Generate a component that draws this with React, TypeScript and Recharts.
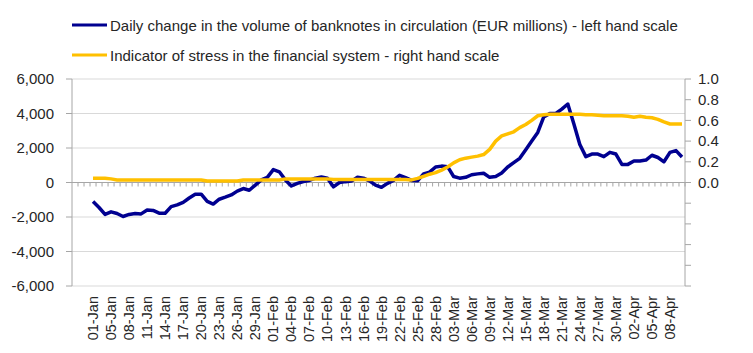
import React from "react";
import {
  ComposedChart,
  Line,
  XAxis,
  YAxis,
  CartesianGrid,
  ReferenceLine,
} from "recharts";

// empty slots before the first observation (Excel leaves a gap there)
const padding = ["", " ", "  "];

const dates = [
  "01-Jan", "03-Jan", "04-Jan", "05-Jan", "06-Jan", "07-Jan", "08-Jan", "09-Jan", "10-Jan", "11-Jan",
  "12-Jan", "13-Jan", "14-Jan", "15-Jan", "16-Jan", "17-Jan", "18-Jan", "19-Jan", "20-Jan", "21-Jan",
  "22-Jan", "23-Jan", "24-Jan", "25-Jan", "26-Jan", "27-Jan", "28-Jan", "29-Jan", "30-Jan", "31-Jan",
  "01-Feb", "02-Feb", "03-Feb", "04-Feb", "05-Feb", "06-Feb", "07-Feb", "08-Feb", "09-Feb", "10-Feb",
  "11-Feb", "12-Feb", "13-Feb", "14-Feb", "15-Feb", "16-Feb", "17-Feb", "18-Feb", "19-Feb", "20-Feb",
  "21-Feb", "22-Feb", "23-Feb", "24-Feb", "25-Feb", "26-Feb", "27-Feb", "28-Feb",
  "01-Mar", "02-Mar", "03-Mar", "04-Mar", "05-Mar", "06-Mar", "07-Mar", "08-Mar", "09-Mar", "10-Mar",
  "11-Mar", "12-Mar", "13-Mar", "14-Mar", "15-Mar", "16-Mar", "17-Mar", "18-Mar", "19-Mar", "20-Mar",
  "21-Mar", "22-Mar", "23-Mar", "24-Mar", "25-Mar", "26-Mar", "27-Mar", "28-Mar", "29-Mar", "30-Mar",
  "31-Mar",
  "01-Apr", "02-Apr", "03-Apr", "04-Apr", "05-Apr", "06-Apr", "07-Apr", "08-Apr", "09-Apr", "10-Apr",
];

// EUR millions, left hand scale
const banknotes = [
  // Jan
  -1100, -1450, -1850, -1700, -1800, -1970, -1850, -1800, -1820, -1600,
  -1620, -1780, -1780, -1400, -1300, -1150, -900, -680, -680, -1100,
  -1250, -970, -850, -720, -500, -350, -450, -150, 150, 300,
  // Feb
  750, 620, 150, -200, -50, 60, 120, 250, 320, 250,
  -250, 0, 50, 80, 300, 250, 100, -150, -280, -50,
  120, 420, 280, 120, 100, 500, 600, 900,
  // Mar
  950, 920, 350, 250, 300, 450, 500, 540, 300, 350,
  550, 900, 1150, 1400, 1900, 2400, 2900, 3800, 4000, 4000,
  4250, 4550, 3400, 2200, 1500, 1650, 1650, 1500, 1750, 1650,
  1050,
  // Apr
  1050, 1250, 1250, 1300, 1580, 1450, 1200, 1750, 1850, 1480,
];

// stress indicator, right hand scale
const stress = [
  // Jan
  0.04, 0.04, 0.04, 0.035, 0.025, 0.025, 0.025, 0.025, 0.025, 0.025,
  0.025, 0.025, 0.025, 0.025, 0.025, 0.025, 0.025, 0.025, 0.025, 0.015,
  0.015, 0.015, 0.015, 0.015, 0.015, 0.025, 0.025, 0.025, 0.025, 0.025,
  // Feb
  0.025, 0.025, 0.035, 0.035, 0.035, 0.035, 0.035, 0.035, 0.035, 0.035,
  0.028, 0.028, 0.028, 0.028, 0.028, 0.028, 0.028, 0.028, 0.028, 0.028,
  0.028, 0.028, 0.028, 0.025, 0.04, 0.06, 0.08, 0.095,
  // Mar
  0.12, 0.15, 0.19, 0.22, 0.235, 0.245, 0.255, 0.27, 0.32, 0.4,
  0.45, 0.47, 0.49, 0.53, 0.56, 0.6, 0.645, 0.655, 0.66, 0.66,
  0.66, 0.66, 0.66, 0.66, 0.655, 0.655, 0.65, 0.645, 0.645, 0.645,
  0.645,
  // Apr
  0.64, 0.63, 0.64, 0.63, 0.625, 0.61, 0.585, 0.565, 0.565, 0.565,
];

const leftTicks = [-6000, -4000, -2000, 0, 2000, 4000, 6000];
const rightTicks = [-1, -0.8, -0.6, -0.4, -0.2, 0, 0.2, 0.4, 0.6, 0.8, 1];

const legendItems = [
  { label: "Daily change in the volume of banknotes in circulation (EUR millions) - left hand scale", color: "#000090" },
  { label: "Indicator of stress in the financial system - right hand scale", color: "#FFC000" },
];

const data = [
  ...padding.map((p) => ({ date: p, banknotes: null, stress: null })),
  ...dates.map((d, i) => ({ date: d, banknotes: banknotes[i], stress: stress[i] })),
];

const FONT = "'Liberation Sans', Arial, sans-serif";
const AXIS = "#a6a6a6";
const TEXT = "#262626";

const DateTick = (props: any) => {
  const { x, y, payload } = props;
  return (
    <text
      x={x}
      y={y}
      transform={`rotate(-90, ${x}, ${y})`}
      textAnchor="end"
      dy="0.35em"
      fontSize={14.5}
      fontFamily={FONT}
      fill={TEXT}
    >
      {payload.value}
    </text>
  );
};

const ValueTick = (props: any) => {
  const { x, y, payload, textAnchor, tickFormatter } = props;
  const label = tickFormatter ? tickFormatter(payload.value) : payload.value;
  return (
    <text
      x={x}
      y={y}
      textAnchor={textAnchor}
      dy="0.35em"
      fontSize={15}
      fontFamily={FONT}
      fill={TEXT}
    >
      {label}
    </text>
  );
};

// zero line that doubles as the category axis, with a small tick between categories
const ZeroAxis = (props: any) => {
  const { x1, x2, y1 } = props;
  if (x1 == null || x2 == null || y1 == null) return null;
  const step = (x2 - x1) / data.length;
  return (
    <g>
      <line x1={x1} x2={x2} y1={y1} y2={y1} stroke={AXIS} strokeWidth={1} />
      {data.map((_, i) => (
        <line
          key={`t-${i}`}
          x1={x1 + (i + 1) * step}
          x2={x1 + (i + 1) * step}
          y1={y1}
          y2={y1 + 4}
          stroke={AXIS}
          strokeWidth={1}
        />
      ))}
    </g>
  );
};

const formatLeft = (v: number) => v.toLocaleString("en-US");
const formatRight = (v: number) => (v < 0 ? "" : v.toFixed(1));

const App: React.FC = () => {
  return (
    <div style={{ position: "relative", width: 753, height: 353, fontFamily: FONT }}>
      <style>{`body{margin:0}`}</style>
      <div style={{ position: "absolute", left: 72, top: 14 }}>
        {legendItems.map((item, i) => (
          <div
            key={item.label}
            style={{ display: "flex", alignItems: "center", height: 22, marginBottom: i === 0 ? 8 : 0 }}
          >
            <svg width={36} height={6} style={{ marginRight: 2 }}>
              <line x1={0} x2={35} y1={3} y2={3} stroke={item.color} strokeWidth={3} />
            </svg>
            <span style={{ fontSize: 15, color: TEXT, whiteSpace: "nowrap" }}>{item.label}</span>
          </div>
        ))}
      </div>
      <ComposedChart
        width={753}
        height={353}
        data={data}
        margin={{ top: 79, right: 0, bottom: 0, left: 0 }}
      >
        <CartesianGrid yAxisId="left" vertical={false} stroke="#d9d9d9" />
        <XAxis
          dataKey="date"
          scale="band"
          interval={2}
          height={67}
          axisLine={false}
          tickLine={false}
          tickSize={0}
          tickMargin={10}
          tick={<DateTick />}
        />
        <YAxis
          yAxisId="left"
          width={72}
          domain={[-6000, 6000]}
          ticks={leftTicks}
          interval={0}
          tickFormatter={formatLeft}
          stroke={AXIS}
          tickSize={6}
          tickMargin={12}
          tick={<ValueTick tickFormatter={formatLeft} />}
        />
        <YAxis
          yAxisId="right"
          orientation="right"
          width={68}
          domain={[-1, 1]}
          ticks={rightTicks}
          interval={0}
          tickFormatter={formatRight}
          stroke={AXIS}
          tickSize={6}
          tickMargin={7}
          tick={<ValueTick tickFormatter={formatRight} />}
        />
        <ReferenceLine yAxisId="left" y={0} shape={(p: any) => <ZeroAxis {...p} />} />
        <Line
          yAxisId="left"
          dataKey="banknotes"
          stroke="#000090"
          strokeWidth={3.5}
          dot={false}
          strokeLinejoin="round"
          isAnimationActive={false}
        />
        <Line
          yAxisId="right"
          dataKey="stress"
          stroke="#FFC000"
          strokeWidth={3.5}
          dot={false}
          strokeLinejoin="round"
          isAnimationActive={false}
        />
      </ComposedChart>
    </div>
  );
};

export default App;
